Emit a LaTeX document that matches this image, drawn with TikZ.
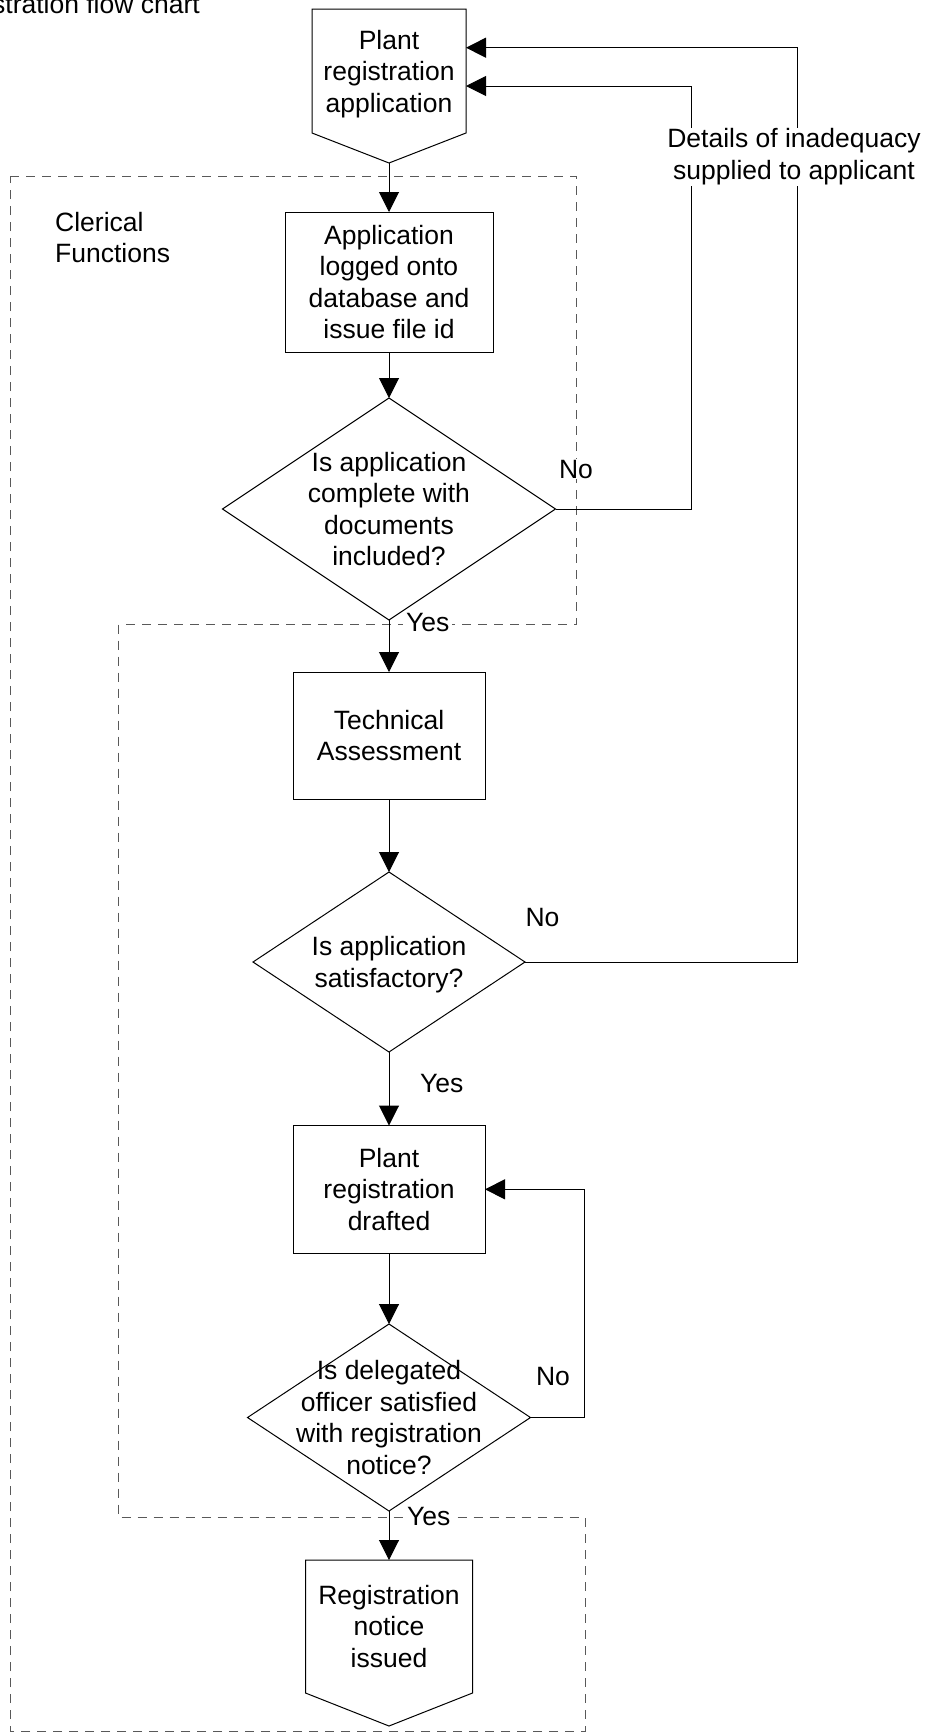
\documentclass[tikz,border=0pt]{standalone}
\usepackage{fontspec}
\setmainfont{Liberation Sans}
\usetikzlibrary{positioning}
\usetikzlibrary{calc}
\usetikzlibrary{arrows.meta}
\newcommand{\flowfont}{\fontsize{26.5pt}{31.5pt}\selectfont}

\begin{document}
\begin{tikzpicture}[x=1pt, y=1pt,
	procnode/.style={rectangle, draw=black, line width=1pt, outer sep=0pt, inner sep=0pt, align=center, font=\flowfont},
	decnode/.style={rectangle, outer sep=0pt, inner sep=0pt, align=center, font=\flowfont},
	pagenode/.style={rectangle, outer sep=0pt, inner sep=0pt, align=center, font=\flowfont},
	lbl/.style={fill=white, inner xsep=3pt, inner ysep=1pt, font=\flowfont},
	ln/.style={line width=1pt},
	arr/.style={line width=1pt, -{Triangle[width=20pt,length=20pt]}},
	zone/.style={draw=black!65, line width=1pt, dash pattern=on 9pt off 7pt}]
	\useasboundingbox (0,0) rectangle (928,-1733);
	% clerical area
	\draw[zone] (10,-176) -- (576,-176) -- (576,-624.5) -- (118.5,-624.5) -- (118.5,-1517.5) -- (585,-1517.5) -- (585,-1731) -- (10,-1731) -- cycle;
	\node[anchor=base east, inner sep=0pt, font=\flowfont] (title) at (200,-13.3) {stration flow chart};
	\node[anchor=north west, align=left, inner sep=0pt, font=\flowfont] (clerical) at (55,-211.7) {Clerical\\Functions};

	\node[pagenode, minimum width=154pt, minimum height=124pt] (start) at (389,-71) {Plant\\registration\\\smash{application}};
	\node[procnode, minimum width=208pt, minimum height=140pt] (app) [below=79pt of start] {Application\\logged onto\\database and\\issue file id};
	\node[decnode, minimum width=333pt, minimum height=222pt] (chk1) [below=46pt of app] {Is application\\complete with\\documents\\included?};
	\node[procnode, minimum width=192pt, minimum height=127.5pt] (tech) [below=52pt of chk1] {Technical\\Assessment};
	\node[decnode, minimum width=272pt, minimum height=180pt] (chk2) [below=72.5pt of tech] {Is application\\\smash{satisfactory?}};
	\node[procnode, minimum width=192pt, minimum height=127.5pt] (draft) [below=73.5pt of chk2] {Plant\\registration\\drafted};
	\node[decnode, minimum width=283pt, minimum height=187pt] (chk3) [below=71pt of draft] {Is delegated\\officer satisfied\\with registration\\notice?};
	\node[pagenode, minimum width=167pt, minimum height=133pt] (issued) [below=49pt of chk3] {Registration\\notice\\issued};

	% off-page shapes and decisions
	\coordinate (startpt) at ($(start.south)+(0,-30)$);
	\coordinate (endpt) at ($(issued.south)+(0,-33)$);
	\draw[ln] (start.north west) -- (start.north east) -- (start.south east) -- (startpt) -- (start.south west) -- cycle;
	\draw[ln] (issued.north west) -- (issued.north east) -- (issued.south east) -- (endpt) -- (issued.south west) -- cycle;
	\draw[ln] (chk1.north) -- (chk1.east) -- (chk1.south) -- (chk1.west) -- cycle;
	\draw[ln] (chk2.north) -- (chk2.east) -- (chk2.south) -- (chk2.west) -- cycle;
	\draw[ln] (chk3.north) -- (chk3.east) -- (chk3.south) -- (chk3.west) -- cycle;

	\draw[arr] (startpt) -- (app.north);
	\draw[arr] (app.south) -- (chk1.north);
	\draw[arr] (chk1.south) -- (tech.north);
	\draw[arr] (tech.south) -- (chk2.north);
	\draw[arr] (chk2.south) -- (draft.north);
	\draw[arr] (draft.south) -- (chk3.north);
	\draw[arr] (chk3.south) -- (issued.north);

	% return paths
	\coordinate (fb1) at (691,-86);
	\coordinate (fb2) at (797,-47.7);
	\coordinate (fb3) at (584.3,-1189.3);
	\draw[arr] (chk1.east) -| (fb1) -- (fb1 -| start.east);
	\draw[arr] (chk2.east) -| (fb2) -- (fb2 -| start.east);
	\draw[arr] (chk3.east) -| (fb3) -- (fb3 -| draft.east);

	\node[lbl, align=center, inner sep=1pt] (details) at (794,-156.8) {Details of inadequacy\\supplied to applicant};
	\node[lbl, anchor=base] (no1) at (576,-478) {No};
	\node[lbl, anchor=base] (no2) at (542.5,-926.5) {No};
	\node[lbl, anchor=base] (no3) at (553,-1385) {No};
	\node[lbl, anchor=base west] (yes1) at (403,-631.5) {Yes};
	\node[lbl, anchor=base west] (yes2) at (417,-1092) {Yes};
	\node[lbl, anchor=base west] (yes3) at (404,-1525) {Yes};
\end{tikzpicture}
\end{document}
